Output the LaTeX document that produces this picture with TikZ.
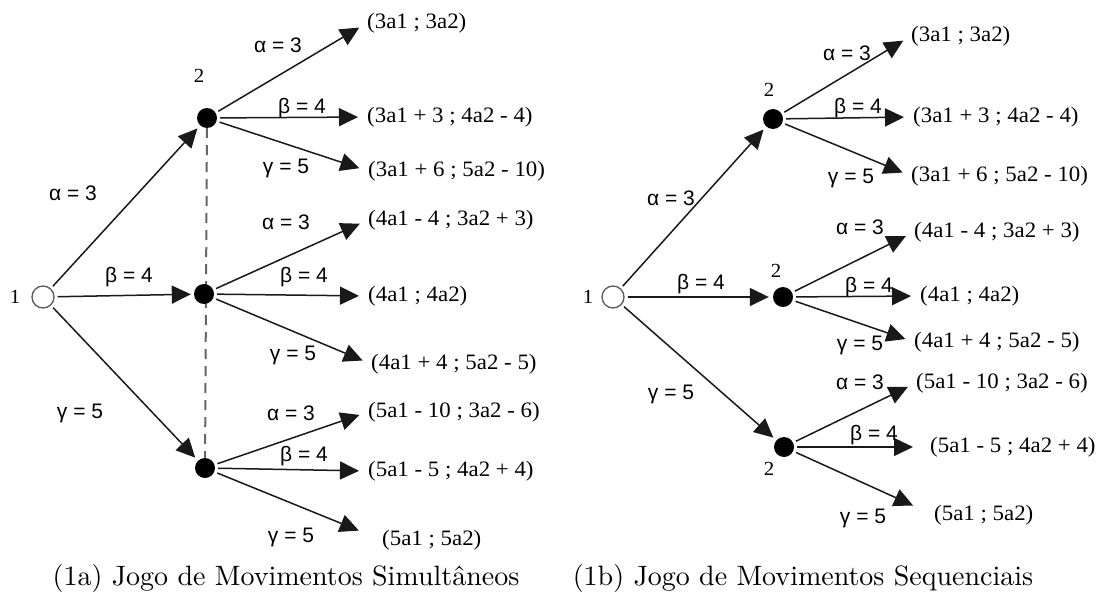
\documentclass[tikz,border=0pt]{standalone}
\usepackage{fontspec}
\usetikzlibrary{arrows.meta,backgrounds}
\newfontfamily\payfont[FakeStretch=1.04]{Liberation Serif}
\newfontfamily\labfont{Liberation Sans}
\newfontfamily\capfont{lmroman10-regular.otf}

\tikzset{
  player/.style={circle,draw=black!65,line width=1.3pt,minimum size=22pt,inner sep=0pt},
  move/.style={circle,fill=black,minimum size=20pt,inner sep=0pt},
  payoff/.style={anchor=west,inner sep=0pt,font=\payfont\fontsize{22}{24}\selectfont},
  lab/.style={inner sep=0pt,font=\labfont\fontsize{21}{23}\selectfont},
  who/.style={inner sep=0pt,font=\payfont\fontsize{20}{22}\selectfont},
  caption/.style={inner sep=0pt,font=\capfont\fontsize{28}{30}\selectfont},
  branch/.style={draw=black!90,line width=1.5pt,-{Triangle[length=19pt,width=18pt]},
    shorten <=3pt,shorten >=9pt},
  info/.style={draw=black!60,line width=2pt,dash pattern=on 10pt off 7pt},
}

\begin{document}
\begin{tikzpicture}[x=1pt,y=-1pt]
  \useasboundingbox (0,0) rectangle (1118,604);

  % (1a) simultaneous moves
  \node[player] (r1) at (43,297) {};
  \node[who] (n1) at (15,297) {1};
  \node[move] (a1) at (207,118) {};
  \node[move] (b1) at (204,294) {};
  \node[move] (c1) at (205,468) {};
  \node[who] (n2) at (199,76) {2};
  \begin{scope}[on background layer]
    \draw[info] (a1) -- (c1);
  \end{scope}

  \node[payoff] (p11) at (367,23) {(3a1 ; 3a2)};
  \node[payoff] (p12) at (367,117) {(3a1 + 3 ; 4a2 - 4)};
  \node[payoff] (p13) at (368,171) {(3a1 + 6 ; 5a2 - 10)};
  \node[payoff] (p21) at (368,220) {(4a1 - 4 ; 3a2 + 3)};
  \node[payoff] (p22) at (368,296) {(4a1 ; 4a2)};
  \node[payoff] (p23) at (371,364) {(4a1 + 4 ; 5a2 - 5)};
  \node[payoff] (p31) at (368,412) {(5a1 - 10 ; 3a2 - 6)};
  \node[payoff] (p32) at (368,471) {(5a1 - 5 ; 4a2 + 4)};
  \node[payoff] (p33) at (382,540) {(5a1 ; 5a2)};

  \draw[branch,shorten >=4pt] (r1) -- (a1);
  \draw[branch,shorten >=3pt] (r1) -- (b1);
  \draw[branch,shorten >=4pt] (r1) -- (c1);
  \draw[branch] (a1) -- (p11.west);
  \draw[branch] (a1) -- (p12.west);
  \draw[branch] (a1) -- (p13.west);
  \draw[branch] (b1) -- (p21.west);
  \draw[branch] (b1) -- (p22.west);
  \draw[branch] (b1) -- (p23.west);
  \draw[branch] (c1) -- (p31.west);
  \draw[branch] (c1) -- (p32.west);
  \draw[branch,shorten >=25pt] (c1) -- (p33.west);

  \node[lab] (l1a) at (73,193) {α = 3};
  \node[lab] (l1b) at (129,277) {β = 4};
  \node[lab] (l1c) at (80,413) {γ = 5};
  \node[lab] (l11) at (278,45) {α = 3};
  \node[lab] (l12) at (302,108) {β = 4};
  \node[lab] (l13) at (286,168) {γ = 5};
  \node[lab] (l21) at (286,222) {α = 3};
  \node[lab] (l22) at (304,277) {β = 4};
  \node[lab] (l23) at (293,355) {γ = 5};
  \node[lab] (l31) at (291,413) {α = 3};
  \node[lab] (l32) at (304,456) {β = 4};
  \node[lab] (l33) at (291,537) {γ = 5};

  \node[caption] (capa) at (286,578) {(1a) Jogo de Movimentos Simultâneos};

  % (1b) sequential moves
  \node[player] (r2) at (613,297) {};
  \node[who] (m1) at (588,297) {1};
  \node[move] (a2) at (773,119) {};
  \node[move] (b2) at (783,297) {};
  \node[move] (c2) at (784,447) {};
  \node[who] (m2) at (769,90) {2};
  \node[who] (m3) at (776,271) {2};
  \node[who] (m4) at (769,469) {2};

  \node[payoff] (q11) at (911,36) {(3a1 ; 3a2)};
  \node[payoff] (q12) at (913,117) {(3a1 + 3 ; 4a2 - 4)};
  \node[payoff] (q13) at (911,176) {(3a1 + 6 ; 5a2 - 10)};
  \node[payoff] (q21) at (914,232) {(4a1 - 4 ; 3a2 + 3)};
  \node[payoff] (q22) at (920,296) {(4a1 ; 4a2)};
  \node[payoff] (q23) at (914,342) {(4a1 + 4 ; 5a2 - 5)};
  \node[payoff] (q31) at (916,383) {(5a1 - 10 ; 3a2 - 6)};
  \node[payoff] (q32) at (930,447) {(5a1 - 5 ; 4a2 + 4)};
  \node[payoff] (q33) at (934,515) {(5a1 ; 5a2)};

  \draw[branch,shorten >=4pt] (r2) -- (a2);
  \draw[branch,shorten >=4pt] (r2) -- (b2);
  \draw[branch,shorten >=4pt] (r2) -- (c2);
  \draw[branch] (a2) -- (q11.west);
  \draw[branch] (a2) -- (q12.west);
  \draw[branch] (a2) -- (q13.west);
  \draw[branch] (b2) -- (q21.west);
  \draw[branch] (b2) -- (q22.west);
  \draw[branch] (b2) -- (q23.west);
  \draw[branch] (c2) -- (q31.west);
  \draw[branch,shorten >=17pt] (c2) -- (q32.west);
  \draw[branch,shorten >=23pt] (c2) -- (q33.west);

  \node[lab] (k1a) at (671,198) {α = 3};
  \node[lab] (k1b) at (701,284) {β = 4};
  \node[lab] (k1c) at (671,394) {γ = 5};
  \node[lab] (k11) at (847,53) {α = 3};
  \node[lab] (k12) at (858,108) {β = 4};
  \node[lab] (k13) at (851,178) {γ = 5};
  \node[lab] (k21) at (860,227) {α = 3};
  \node[lab] (k22) at (869,287) {β = 4};
  \node[lab] (k23) at (860,345) {γ = 5};
  \node[lab] (k31) at (860,382) {α = 3};
  \node[lab] (k32) at (874,435) {β = 4};
  \node[lab] (k33) at (863,518) {γ = 5};

  \node[caption] (capb) at (803,578) {(1b) Jogo de Movimentos Sequenciais};
\end{tikzpicture}
\end{document}
